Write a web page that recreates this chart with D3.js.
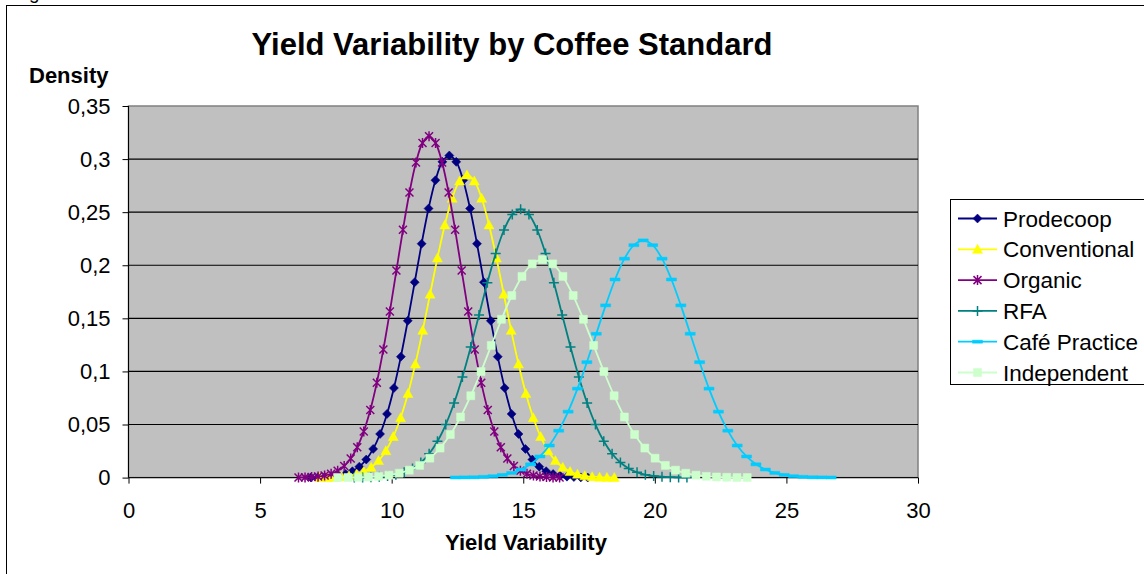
<!DOCTYPE html>
<html>
<head>
<meta charset="utf-8">
<script src="https://cdn.jsdelivr.net/npm/d3@7"></script>
<style>
  body { margin: 0; background: #fff; }
  svg { display: block; font-family: 'Liberation Sans', Arial, sans-serif; }
</style>
</head>
<body>
<svg id="chart" width="1144" height="574"></svg>
<script>
// series order as in the legend
const seriesNames = ['Prodecoop', 'Conventional', 'Organic', 'RFA', 'Café Practice', 'Independent'];

// first x of every series and the spacing between its points
const xStarts = [6.93, 7.26, 6.46, 8.58, 12.42, 7.95];
const xSteps = [0.263, 0.28, 0.248, 0.316, 0.357, 0.389];

const prodecoop = [0.0001, 0.0002, 0.0005, 0.0009, 0.0018, 0.0034, 0.0060, 0.0103, 0.0170, 0.0270,
  0.0411, 0.0600, 0.0844, 0.1139, 0.1477, 0.1840, 0.2203, 0.2534, 0.2801, 0.2974, 0.3034,
  0.2974, 0.2801, 0.2534, 0.2203, 0.1840, 0.1477, 0.1139, 0.0844, 0.0600, 0.0411,
  0.0270, 0.0170, 0.0103, 0.0060, 0.0034, 0.0018, 0.0009, 0.0005, 0.0002, 0.0001];

const conventional = [0.0001, 0.0002, 0.0004, 0.0009, 0.0017, 0.0032, 0.0057, 0.0097, 0.0160, 0.0253,
  0.0386, 0.0564, 0.0792, 0.1070, 0.1387, 0.1728, 0.2069, 0.2380, 0.2631, 0.2793, 0.2850,
  0.2793, 0.2631, 0.2380, 0.2069, 0.1728, 0.1387, 0.1070, 0.0792, 0.0564, 0.0386,
  0.0253, 0.0160, 0.0097, 0.0057, 0.0032, 0.0017, 0.0009, 0.0004, 0.0002, 0.0001];

const organic = [0.0001, 0.0002, 0.0005, 0.0010, 0.0019, 0.0036, 0.0064, 0.0109, 0.0180, 0.0286,
  0.0435, 0.0636, 0.0894, 0.1207, 0.1565, 0.1950, 0.2334, 0.2685, 0.2968, 0.3151, 0.3215,
  0.3151, 0.2968, 0.2685, 0.2334, 0.1950, 0.1565, 0.1207, 0.0894, 0.0636, 0.0435,
  0.0286, 0.0180, 0.0109, 0.0064, 0.0036, 0.0019, 0.0010, 0.0005, 0.0002, 0.0001];

const rfa = [0.0001, 0.0002, 0.0004, 0.0008, 0.0015, 0.0028, 0.0050, 0.0086, 0.0142, 0.0225,
  0.0342, 0.0500, 0.0702, 0.0948, 0.1230, 0.1532, 0.1835, 0.2110, 0.2332, 0.2477, 0.2527,
  0.2477, 0.2332, 0.2110, 0.1835, 0.1532, 0.1230, 0.0948, 0.0702, 0.0500, 0.0342,
  0.0225, 0.0142, 0.0086, 0.0050, 0.0028, 0.0015, 0.0008, 0.0004, 0.0002, 0.0001];

const cafePractice = [0.0001, 0.0002, 0.0003, 0.0007, 0.0013, 0.0025, 0.0044, 0.0076, 0.0125, 0.0199,
  0.0302, 0.0442, 0.0621, 0.0838, 0.1087, 0.1355, 0.1622, 0.1866, 0.2062, 0.2189, 0.2234,
  0.2189, 0.2062, 0.1866, 0.1622, 0.1355, 0.1087, 0.0838, 0.0621, 0.0442, 0.0302,
  0.0199, 0.0125, 0.0076, 0.0044, 0.0025, 0.0013, 0.0007, 0.0003, 0.0002, 0.0001];

const independent = [0.0001, 0.0001, 0.0003, 0.0006, 0.0012, 0.0023, 0.0041, 0.0070, 0.0115, 0.0183,
  0.0278, 0.0406, 0.0571, 0.0771, 0.0999, 0.1245, 0.1491, 0.1715, 0.1895, 0.2013, 0.2053,
  0.2013, 0.1895, 0.1715, 0.1491, 0.1245, 0.0999, 0.0771, 0.0571, 0.0406, 0.0278,
  0.0183, 0.0115, 0.0070, 0.0041, 0.0023, 0.0012, 0.0006, 0.0003, 0.0001, 0.0001];

const seriesValues = [prodecoop, conventional, organic, rfa, cafePractice, independent];

const xTicks = [0, 5, 10, 15, 20, 25, 30];
const yTicks = [0, 0.05, 0.1, 0.15, 0.2, 0.25, 0.3, 0.35];
const yTickLabels = ['0', '0,05', '0,1', '0,15', '0,2', '0,25', '0,3', '0,35'];

var config = {
  plot: { left: 128.5, right: 918, top: 106, bottom: 477.6 },
  colors: ['#000080', '#FFFF00', '#800080', '#008080', '#00CCFF', '#CCFFCC'],
  markers: ['diamond', 'triangle', 'star', 'plus', 'dash', 'square'],
  font: 22
};

var svg = d3.select('#chart');

var x = d3.scaleLinear().domain([0, 30]).range([config.plot.left, config.plot.right]);
var y = d3.scaleLinear().domain([0, 0.35]).range([config.plot.bottom, config.plot.top]);

// outer chart frame, runs off the right and bottom edges
svg.append('rect')
  .attr('x', 6.5).attr('y', 5.5)
  .attr('width', 1200).attr('height', 600)
  .attr('fill', '#fff')
  .attr('stroke', '#000');

// tail of a caption letter cut by the page top
svg.append('text')
  .attr('x', 29).attr('y', -1)
  .style('font-size', '19px')
  .text('g');

// plot area
svg.append('rect')
  .attr('x', config.plot.left).attr('y', config.plot.top)
  .attr('width', config.plot.right - config.plot.left)
  .attr('height', config.plot.bottom - config.plot.top)
  .attr('fill', '#C0C0C0')
  .attr('stroke', '#808080')
  .attr('stroke-width', 1.5);

svg.append('g').selectAll('line')
  .data(yTicks.filter(t => t > 0 && t < 0.35))
  .enter().append('line')
  .attr('x1', config.plot.left).attr('x2', config.plot.right)
  .attr('y1', d => y(d)).attr('y2', d => y(d))
  .attr('stroke', '#000')
  .attr('stroke-width', 1.2);

var yAxis = d3.axisLeft(y)
  .tickValues(yTicks)
  .tickSize(6)
  .tickPadding(12)
  .tickFormat((d, i) => yTickLabels[i]);

var xAxis = d3.axisBottom(x)
  .tickValues(xTicks)
  .tickSize(6)
  .tickPadding(19)
  .tickFormat(d3.format('d'));

function styleAxis(g) {
  g.select('.domain').remove();
  g.selectAll('.tick line').attr('stroke', '#000');
  g.selectAll('.tick text')
    .attr('fill', '#000')
    .style('font-size', config.font + 'px')
    .style('font-family', "'Liberation Sans', Arial, sans-serif");
}

svg.append('g')
  .attr('transform', 'translate(' + config.plot.left + ',0)')
  .call(yAxis)
  .call(styleAxis);

svg.append('g')
  .attr('transform', 'translate(0,' + config.plot.bottom + ')')
  .call(xAxis)
  .call(styleAxis);

svg.append('line')
  .attr('x1', config.plot.left).attr('x2', config.plot.left)
  .attr('y1', config.plot.top).attr('y2', config.plot.bottom)
  .attr('stroke', '#000');
svg.append('line')
  .attr('x1', config.plot.left).attr('x2', config.plot.right)
  .attr('y1', config.plot.bottom).attr('y2', config.plot.bottom)
  .attr('stroke', '#000');

// marker shapes in the Excel style
function markerPath(kind) {
  switch (kind) {
    case 'diamond': return 'M0,-4.5L4.5,0L0,4.5L-4.5,0Z';
    case 'triangle': return 'M0,-5L5,4L-5,4Z';
    case 'square': return 'M-4,-4L4,-4L4,4L-4,4Z';
    case 'star': return 'M-4,-4L4,4M-4,4L4,-4M0,-5L0,5';
    case 'plus': return 'M-5,0L5,0M0,-5L0,5';
    case 'dash': return 'M-5,-1.5L5,-1.5L5,1.5L-5,1.5Z';
  }
}

function drawMarker(sel, kind, color) {
  var filled = kind != 'star' && kind != 'plus';
  sel.attr('d', markerPath(kind))
    .attr('fill', filled ? color : 'none')
    .attr('stroke', color)
    .attr('stroke-width', filled ? 0.5 : 1.5);
}

var line = d3.line()
  .x(d => x(d[0]))
  .y(d => y(d[1]))
  .curve(d3.curveCatmullRom.alpha(0.5));

seriesNames.forEach(function (name, s) {
  var points = seriesValues[s].map((v, i) => [xStarts[s] + i * xSteps[s], v]);
  var g = svg.append('g').attr('class', 'series');

  g.append('path')
    .datum(points)
    .attr('d', line)
    .attr('fill', 'none')
    .attr('stroke', config.colors[s])
    .attr('stroke-width', 1.8);

  g.selectAll('.marker')
    .data(points)
    .enter().append('path')
    .attr('class', 'marker')
    .attr('transform', d => 'translate(' + x(d[0]) + ',' + y(d[1]) + ')')
    .call(drawMarker, config.markers[s], config.colors[s]);
});

// titles
svg.append('text')
  .attr('x', 512).attr('y', 55)
  .attr('text-anchor', 'middle')
  .style('font-size', '31px')
  .style('font-weight', 'bold')
  .text('Yield Variability by Coffee Standard');

svg.append('text')
  .attr('x', 29).attr('y', 83)
  .style('font-size', config.font + 'px')
  .style('font-weight', 'bold')
  .text('Density');

svg.append('text')
  .attr('x', 526).attr('y', 550)
  .attr('text-anchor', 'middle')
  .style('font-size', config.font + 'px')
  .style('font-weight', 'bold')
  .text('Yield Variability');

// legend
var legend = svg.append('g').attr('transform', 'translate(950,199.5)');
legend.append('rect')
  .attr('x', 0.5).attr('y', 0)
  .attr('width', 220).attr('height', 185)
  .attr('fill', '#fff')
  .attr('stroke', '#000');

var item = legend.selectAll('.item')
  .data(seriesNames)
  .enter().append('g')
  .attr('class', 'item')
  .attr('transform', (d, i) => 'translate(0,' + (19 + i * 30.8) + ')');

item.append('line')
  .attr('x1', 8).attr('x2', 47)
  .attr('stroke', (d, i) => config.colors[i])
  .attr('stroke-width', 1.8);

item.append('path')
  .attr('transform', 'translate(27.5,0)')
  .each(function (d, i) {
    d3.select(this).call(drawMarker, config.markers[i], config.colors[i]);
  });

item.append('text')
  .attr('x', 53).attr('y', 8)
  .style('font-size', '22.5px')
  .text(d => d);
</script>
</body>
</html>
